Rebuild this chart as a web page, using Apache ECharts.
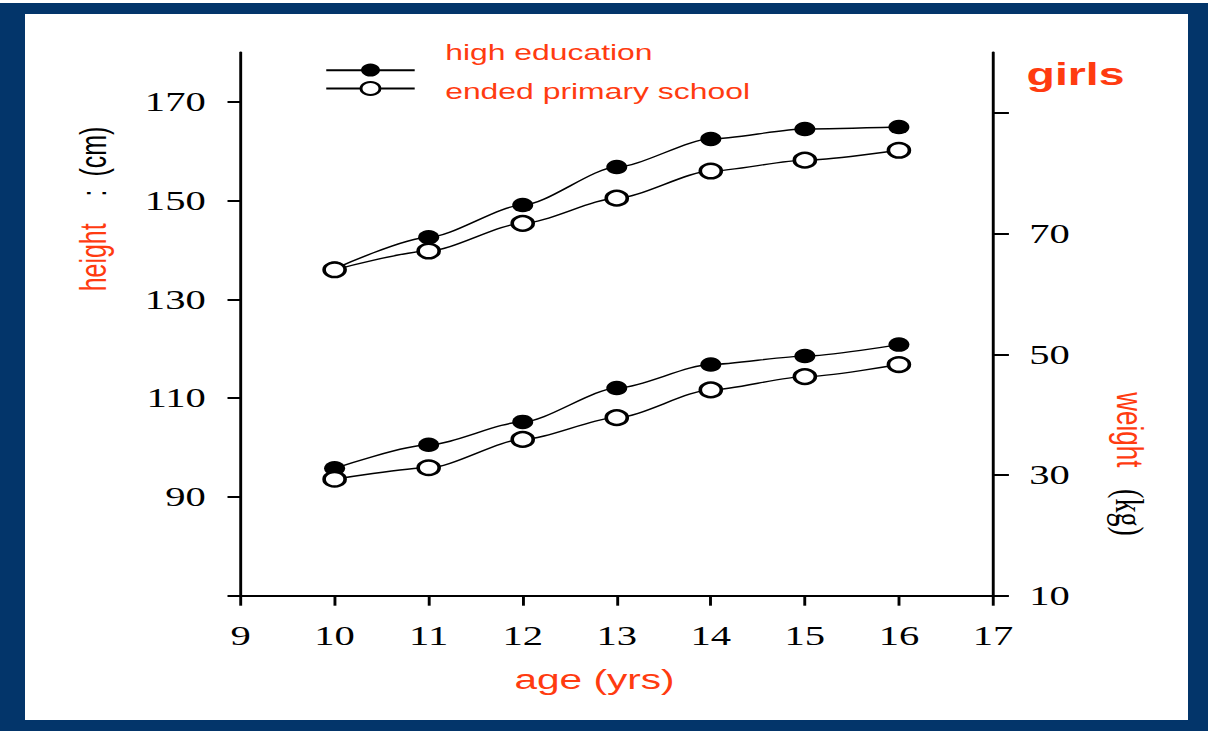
<!DOCTYPE html>
<html>
<head>
<meta charset="utf-8">
<script src="https://cdn.jsdelivr.net/npm/echarts@6.0.0/dist/echarts.min.js"></script>
<style>
  html, body { margin: 0; padding: 0; background: #ffffff; width: 1208px; height: 731px; overflow: hidden; }
  #frame { position: absolute; left: 0; top: 3px; width: 1208px; height: 728px; box-sizing: border-box;
           border-style: solid; border-color: #03356a; border-width: 11px 20px 11px 25px; }
  #chart { position: absolute; left: 0; top: 0; width: 833px; height: 731px;
           transform: scaleX(1.45); transform-origin: 0 0; }
</style>
</head>
<body>
<div id="frame"></div>
<div id="chart"></div>
<script>
// ---- data ----
const ages = [10, 11, 12, 13, 14, 15, 16];
const heightHighEdu = [136.2, 142.6, 149.1, 156.8, 162.5, 164.5, 164.9];
const heightPrimary = [136.0, 139.8, 145.4, 150.5, 156.0, 158.2, 160.2];
const weightHighEdu = [31.1, 35.0, 38.8, 44.4, 48.3, 49.7, 51.6];
const weightPrimary = [29.3, 31.2, 35.9, 39.5, 44.1, 46.3, 48.3];
const xTicks = [9, 10, 11, 12, 13, 14, 15, 16, 17];
const heightTicks = [70, 90, 110, 130, 150, 170];
const heightLabels = [90, 110, 130, 150, 170];
const weightTicks = [10, 30, 50, 70, 90];
const weightLabels = [10, 30, 50, 70];
const seriesNames = ['high education', 'ended primary school'];

const RED = '#ff3b10';
const SANS = 'Liberation Sans, Arial, sans-serif';
const SERIF = 'Liberation Serif, Times New Roman, serif';

const pairs = (xs, ys) => xs.map((x, i) => [x, ys[i]]);

const chart = echarts.init(document.getElementById('chart'), null, { renderer: 'svg', width: 833, height: 731 });

const axisLine = { show: true, lineStyle: { color: '#000', width: 2 } };
const labelStyle = { color: '#000', fontFamily: SERIF, fontSize: 28 };

function lineSeries(name, data, yIndex, filled) {
  return {
    name: name,
    type: 'line',
    yAxisIndex: yIndex,
    data: data,
    smooth: 0.25,
    smoothMonotone: 'x',
    symbol: 'circle',
    symbolSize: 14.5,
    lineStyle: { color: '#000', width: 1.4 },
    itemStyle: filled
      ? { color: '#000', borderColor: '#000', borderWidth: 0 }
      : { color: '#fff', borderColor: '#000', borderWidth: 2.5 },
    emphasis: { disabled: true },
    animation: false
  };
}

chart.setOption({
  animation: false,
  grid: { left: 165.9, right: 148.2, top: 52.5, bottom: 135.3 },
  legend: {
    data: seriesNames,
    orient: 'vertical',
    left: 224,
    top: 62,
    padding: 0,
    itemWidth: 61,
    itemHeight: 16.25,
    itemGap: 3.75,
    selectedMode: false,
    formatter: () => '',
    textStyle: { fontSize: 1 }
  },
  xAxis: {
    type: 'value',
    min: 9, max: 17, interval: 1,
    axisLine: axisLine,
    axisTick: { show: true, length: 10, lineStyle: { color: '#000', width: 2 }, customValues: xTicks },
    axisLabel: Object.assign({ margin: 26, customValues: xTicks }, labelStyle),
    splitLine: { show: false }
  },
  yAxis: [
    {
      type: 'value',
      position: 'left',
      min: 70, max: 180,
      axisLine: axisLine,
      axisTick: { show: true, length: 9, lineStyle: { color: '#000', width: 2 }, customValues: heightTicks },
      axisLabel: Object.assign({ margin: 24, customValues: heightLabels }, labelStyle),
      splitLine: { show: false }
    },
    {
      type: 'value',
      position: 'right',
      min: 10, max: 100,
      axisLine: axisLine,
      axisTick: { show: true, length: 11, lineStyle: { color: '#000', width: 2 }, customValues: weightTicks },
      axisLabel: Object.assign({ margin: 25, customValues: weightLabels }, labelStyle),
      splitLine: { show: false }
    }
  ],
  series: [
    lineSeries(seriesNames[0], pairs(ages, heightHighEdu), 0, true),
    lineSeries(seriesNames[1], pairs(ages, heightPrimary), 0, false),
    lineSeries(seriesNames[0], pairs(ages, weightHighEdu), 1, true),
    lineSeries(seriesNames[1], pairs(ages, weightPrimary), 1, false)
  ],
  graphic: [
    { type: 'text', left: 307, top: 41.5, style: { text: seriesNames[0], font: '22px ' + SANS, fill: RED } },
    { type: 'text', left: 307, top: 80.5, style: { text: seriesNames[1], font: '22px ' + SANS, fill: RED } },
    { type: 'text', x: 708, y: 74, style: { text: 'girls', font: 'bold 32px ' + SANS, fill: RED, align: 'left', verticalAlign: 'middle' } },
    { type: 'text', x: 410, y: 679, style: { text: 'age (yrs)', font: '28px ' + SANS, fill: RED, align: 'center', verticalAlign: 'middle' } },
    {
      type: 'text', x: 65, y: 209, rotation: Math.PI / 2,
      style: {
        text: '{a|height}{b|    :  }{c|(cm)}',
        align: 'center', verticalAlign: 'middle',
        rich: {
          a: { font: '25px ' + SANS, fill: RED },
          b: { font: '24px ' + SANS, fill: '#000' },
          c: { font: '25px ' + SANS, fill: '#000' }
        }
      }
    },
    {
      type: 'text', x: 779, y: 464, rotation: -Math.PI / 2,
      style: {
        text: '{a|weight}{b|   }{c|(kg)}',
        align: 'center', verticalAlign: 'middle',
        rich: {
          a: { font: '26px ' + SANS, fill: RED },
          b: { font: '26px ' + SANS, fill: '#000' },
          c: { font: '28px ' + SERIF, fill: '#000' }
        }
      }
    }
  ]
});
</script>
</body>
</html>
